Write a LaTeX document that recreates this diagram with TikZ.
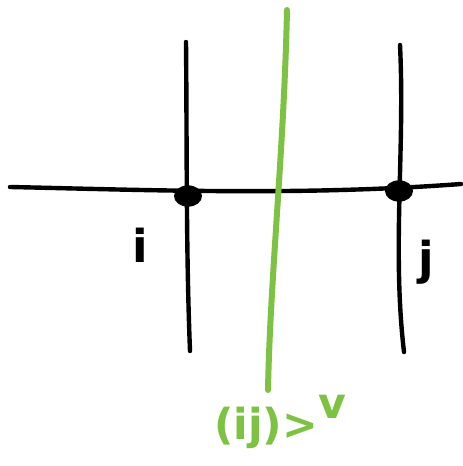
\documentclass[tikz,border=0pt]{standalone}
\usepackage{fontspec}
\setmainfont{DejaVu Sans}
\definecolor{lgreen}{HTML}{7DC242}
\tikzset{
  ink/.style={line width=3.3pt, line cap=round, black},
  gink/.style={line width=4.5pt, line cap=round, lgreen},
  blob/.style={ellipse, fill=black, minimum width=21pt, minimum height=16pt, inner sep=0pt},
  lbl/.style={font=\fontsize{34}{34}\selectfont\bfseries, inner sep=0pt}
}
\usetikzlibrary{shapes.geometric}
\begin{document}
\begin{tikzpicture}[x=0.75pt,y=-0.75pt]
\useasboundingbox (0,0) rectangle (462,466);
% horizontal line
\coordinate (hl) at (10,187);
\coordinate (hr) at (461,184);
\draw[ink] (hl) .. controls (150,190) and (300,196) .. (hr);
% left vertical
\coordinate (v1t) at (186,42);
\coordinate (v1b) at (190,351);
\draw[ink] (v1t) .. controls (187,150) and (186,250) .. (v1b);
% right vertical
\coordinate (v2t) at (400,45);
\coordinate (v2b) at (404,352);
\draw[ink] (v2t) .. controls (405,150) and (392,250) .. (v2b);
% green line
\coordinate (gt) at (287,10);
\coordinate (gb) at (268,390);
\draw[gink] (gt) .. controls (284,150) and (270,280) .. (gb);
% dots
\node[blob] (di) at (188,196) {};
\node[blob] (dj) at (399,191) {};
\node[lbl] (li) at (140,245) {i};
\node[lbl] (lj) at (426,262) {j};
\node[font=\fontsize{32}{32}\selectfont\bfseries, text=lgreen, inner sep=0pt] (lg) at (280,422) {(ij)>\raisebox{0.9ex}{v}};
\end{tikzpicture}
\end{document}
